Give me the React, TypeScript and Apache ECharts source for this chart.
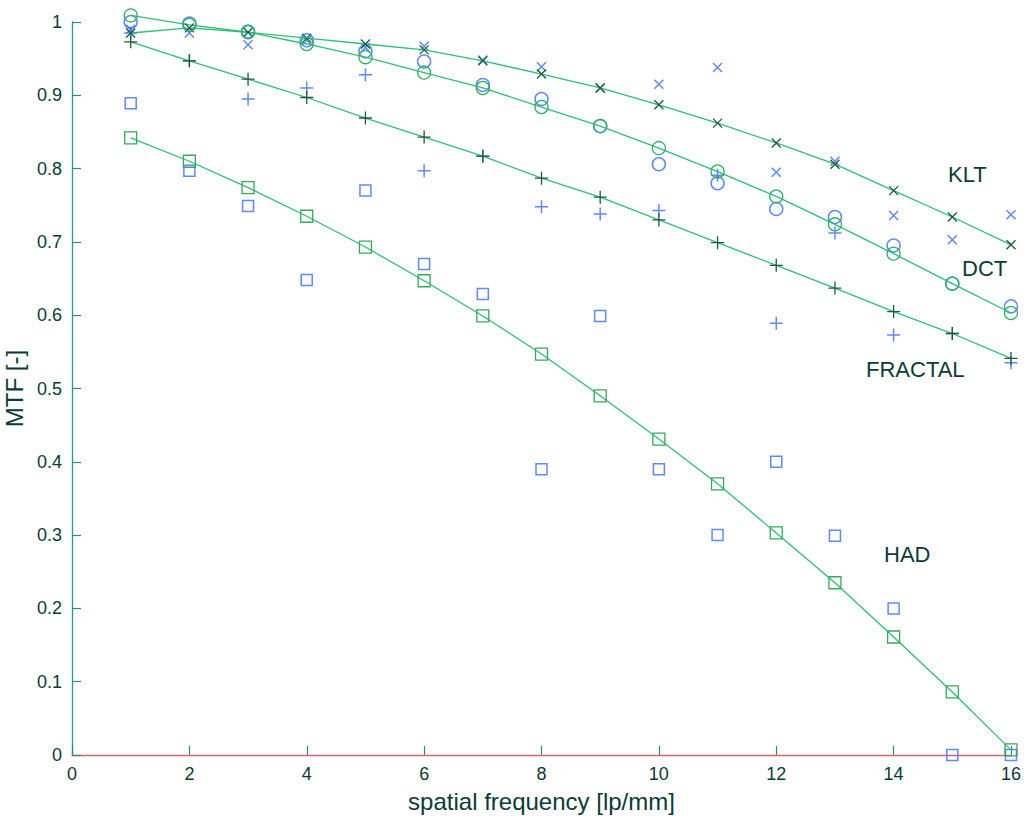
import React, { useEffect, useRef } from "react";
import * as echarts from "echarts";

const freq = [1, 2, 3, 4, 5, 6, 7, 8, 9, 10, 11, 12, 13, 14, 15, 16];

const kltFit = [0.985, 0.992, 0.986, 0.978, 0.97, 0.962, 0.947, 0.929, 0.91, 0.887, 0.862, 0.835, 0.806, 0.77, 0.734, 0.696];
const kltMeas = [0.99, 0.985, 0.969, 0.975, 0.965, 0.967, 0.948, 0.939, 0.91, 0.915, 0.938, 0.795, 0.81, 0.736, 0.703, 0.737];

const dctFit = [1.009, 0.996, 0.986, 0.97, 0.952, 0.931, 0.91, 0.884, 0.858, 0.828, 0.796, 0.762, 0.724, 0.684, 0.643, 0.603];
const dctMeas = [1.0, 0.998, 0.987, 0.975, 0.96, 0.946, 0.914, 0.895, 0.858, 0.806, 0.78, 0.745, 0.734, 0.695, 0.643, 0.612];

const fracFit = [0.973, 0.947, 0.922, 0.897, 0.869, 0.843, 0.817, 0.787, 0.761, 0.73, 0.699, 0.668, 0.637, 0.605, 0.575, 0.541];
const fracMeas = [0.985, 0.947, 0.895, 0.91, 0.928, 0.797, 0.817, 0.748, 0.738, 0.743, 0.791, 0.589, 0.712, 0.573, 0.575, 0.535];

const hadFit = [0.842, 0.81, 0.774, 0.735, 0.693, 0.647, 0.599, 0.547, 0.49, 0.431, 0.37, 0.303, 0.235, 0.161, 0.086, 0.007];
const hadMeas = [0.889, 0.797, 0.749, 0.648, 0.77, 0.67, 0.629, 0.39, 0.599, 0.39, 0.3, 0.4, 0.299, 0.2, 0.0, 0.0];

const xTicks = [0, 2, 4, 6, 8, 10, 12, 14, 16];
const curveNames = ["KLT", "DCT", "FRACTAL", "HAD"];

const FONT = "'Liberation Sans', Arial, Helvetica, sans-serif";
const LINE = "#2fbf78";
const DARK = "#1d5a3c";
const BLUE = "#3a6dff";
const TEXT = "#0c3a3a";

const CROSS = "path://M0,0L10,10M10,0L0,10";
const PLUS = "path://M5,0L5,10M0,5L10,5";

const pairs = (ys: number[]) => freq.map((x, i) => [x, ys[i]]);

export default function App() {
  const ref = useRef<HTMLDivElement>(null);
  useEffect(() => {
    document.body.style.margin = "0";
    const chart = echarts.init(ref.current!, null, { renderer: "svg" });

    const fitSeries = (name: string, ys: number[], symbol: string, color: string, size: number) => ({
      name,
      type: "line",
      data: pairs(ys),
      symbol,
      symbolSize: size,
      showSymbol: true,
      clip: false,
      lineStyle: { color: LINE, width: 1.3 },
      itemStyle: { color: "rgba(0,0,0,0)", borderColor: color, borderWidth: 1.3 },
      z: 3,
    });
    const measSeries = (name: string, ys: number[], symbol: string, size: number) => ({
      name,
      type: "scatter",
      data: pairs(ys),
      symbol,
      symbolSize: size,
      clip: false,
      itemStyle: { color: "rgba(0,0,0,0)", borderColor: BLUE, borderWidth: 1.5 },
      z: 2,
    });

    const labelPos: Record<string, [number, number]> = {
      KLT: [948, 163],
      DCT: [962, 257],
      FRACTAL: [866, 358],
      HAD: [884, 543],
    };

    chart.setOption({
      animation: false,
      backgroundColor: "#ffffff",
      textStyle: { fontFamily: FONT },
      grid: { left: 72, right: 17, top: 22, bottom: 61, containLabel: false, outerBoundsMode: "none" },
      xAxis: {
        type: "value",
        min: 0,
        max: 16,
        interval: 2,
        name: "spatial frequency [lp/mm]",
        nameLocation: "middle",
        nameGap: 34,
        nameTextStyle: { fontSize: 24, color: TEXT, fontFamily: FONT },
        axisLine: { show: true, lineStyle: { color: "#e0606c", width: 1.3 } },
        axisTick: { show: true, inside: true, length: 9, lineStyle: { color: "#2a8a84", width: 1.2 } },
        axisLabel: {
          fontSize: 18,
          color: TEXT,
          margin: 10,
          fontFamily: FONT,
          formatter: (v: number) => (xTicks.includes(v) ? String(v) : ""),
        },
        splitLine: { show: false },
      },
      yAxis: {
        type: "value",
        min: 0,
        max: 1,
        interval: 0.1,
        name: "MTF [-]",
        nameLocation: "middle",
        nameGap: 32,
        nameTextStyle: { fontSize: 24, color: TEXT, fontFamily: FONT },
        axisLine: { show: true, lineStyle: { color: "#2a9a90", width: 1.3 } },
        axisTick: { show: true, inside: true, length: 9, lineStyle: { color: "#2a8a84", width: 1.2 } },
        axisLabel: {
          fontSize: 18,
          color: TEXT,
          margin: 10,
          fontFamily: FONT,
          formatter: (v: number) => String(Math.round(v * 10) / 10),
        },
        splitLine: { show: false },
      },
      graphic: curveNames.map((n) => ({
        type: "text",
        x: labelPos[n][0],
        y: labelPos[n][1],
        style: { text: n, fontSize: 22, fill: TEXT, fontFamily: FONT },
        z: 10,
      })),
      series: [
        measSeries("KLT measured", kltMeas, CROSS, 9),
        measSeries("DCT measured", dctMeas, "circle", 13),
        measSeries("FRACTAL measured", fracMeas, PLUS, 13),
        measSeries("HAD measured", hadMeas, "rect", 11),
        fitSeries("KLT fit", kltFit, CROSS, DARK, 9),
        fitSeries("DCT fit", dctFit, "circle", "#2fb060", 13),
        fitSeries("FRACTAL fit", fracFit, PLUS, DARK, 13),
        fitSeries("HAD fit", hadFit, "rect", "#3aa858", 12),
      ],
    });
    return () => chart.dispose();
  }, []);
  return <div ref={ref} style={{ width: 1028, height: 816 }} />;
}
